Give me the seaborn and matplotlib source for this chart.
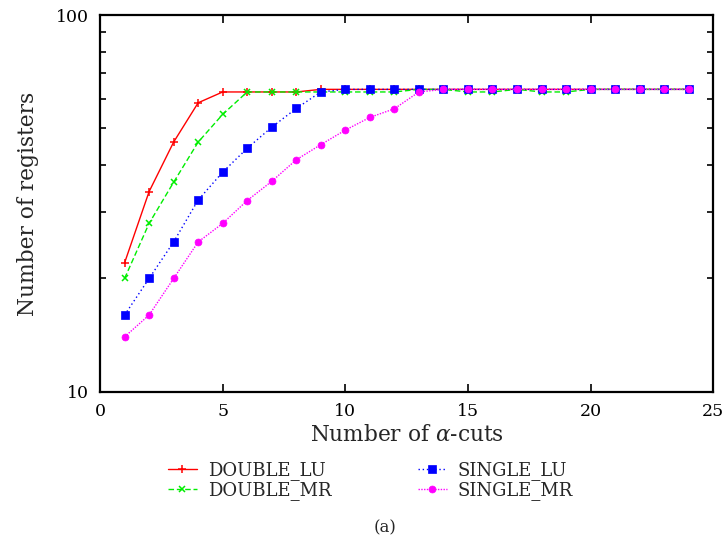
import numpy as np
import pandas as pd
import matplotlib
matplotlib.use('Agg')
import matplotlib.pyplot as plt
from matplotlib.ticker import FixedLocator, NullFormatter, NullLocator
import seaborn as sns

sns.set_style('ticks')
plt.rcParams['font.family'] = ['DejaVu Serif']
plt.rcParams['mathtext.fontset'] = 'dejavuserif'

# data
cuts = list(range(1, 25))
double_lu = [22, 34, 46, 58.5, 62.5, 62.5, 62.5, 62.5] + [63.5] * 16
double_mr = [20, 28, 36, 46, 54.5, 62.5, 62.5, 62.5, 62.5, 62.5, 62.5, 62.5,
             63.5, 63.5, 62.5, 62.5, 63.5, 62.5, 62.5, 63.5, 63.5, 63.5, 63.5, 63.5]
single_lu = [16, 20, 25, 32.3, 38.3, 44.3, 50.4, 56.5, 62.5] + [63.5] * 15
single_mr = [14, 16, 20, 25, 28, 32.2, 36.2, 41.3, 45.3, 49.5, 53.5, 56.4, 62.5] + [63.5] * 11

series = {
    'DOUBLE_LU': (double_lu, '#ff0000', '+', '-', 6),
    'DOUBLE_MR': (double_mr, '#00ee00', 'x', (0, (4, 2)), 5),
    'SINGLE_LU': (single_lu, '#0000ff', 's', (0, (1, 2)), 5.2),
    'SINGLE_MR': (single_mr, '#ff00ff', 'o', (0, (1, 1)), 5),
}

fig, ax = plt.subplots(figsize=(7.27, 5.42), dpi=100)
fig.subplots_adjust(left=0.1376, right=0.981, top=0.9723, bottom=0.2768)

for name, (vals, color, marker, ls, ms) in series.items():
    df = pd.DataFrame({'cuts': cuts, 'regs': vals})
    sns.lineplot(data=df, x='cuts', y='regs', ax=ax, color=color, marker=marker,
                 linestyle=ls, linewidth=1, markersize=ms, markeredgecolor=color,
                 markeredgewidth=1.1 if marker in '+x' else 0.5, label=name)

ax.set_yscale('log')
ax.set_xlim(0, 25)
ax.set_ylim(10, 100)
ax.set_xticks([0, 5, 10, 15, 20, 25])
ax.xaxis.set_minor_locator(NullLocator())
ax.yaxis.set_major_locator(FixedLocator([10, 100]))
ax.set_yticklabels(['10', '100'])
ax.yaxis.set_minor_locator(FixedLocator([20, 30, 40, 50, 60, 70, 80, 90]))
ax.yaxis.set_minor_formatter(NullFormatter())
ax.tick_params(which='both', direction='in', top=True, right=True, width=1.2,
               labelsize=12.5, colors='black', pad=8)
ax.tick_params(which='major', length=6)
ax.tick_params(which='minor', length=4)
for s in ax.spines.values():
    s.set_linewidth(1.6)
    s.set_color('black')

ax.set_xlabel(r'Number of $\alpha$-cuts', fontsize=15.6, labelpad=3)
ax.set_ylabel('Number of registers', fontsize=15.7, labelpad=12)

handles, labels = ax.get_legend_handles_labels()
ax.get_legend().remove()
fig.legend(handles, labels, ncol=2, loc='upper left', bbox_to_anchor=(0.231, 0.149),
           frameon=False, fontsize=13, handlelength=1.6, handletextpad=0.6,
           columnspacing=4.8, labelspacing=0.05, borderaxespad=0, borderpad=0)

fig.text(0.53, 0.026, '(a)', ha='center', va='center', fontsize=12)

fig.savefig('out.png', dpi=100)
